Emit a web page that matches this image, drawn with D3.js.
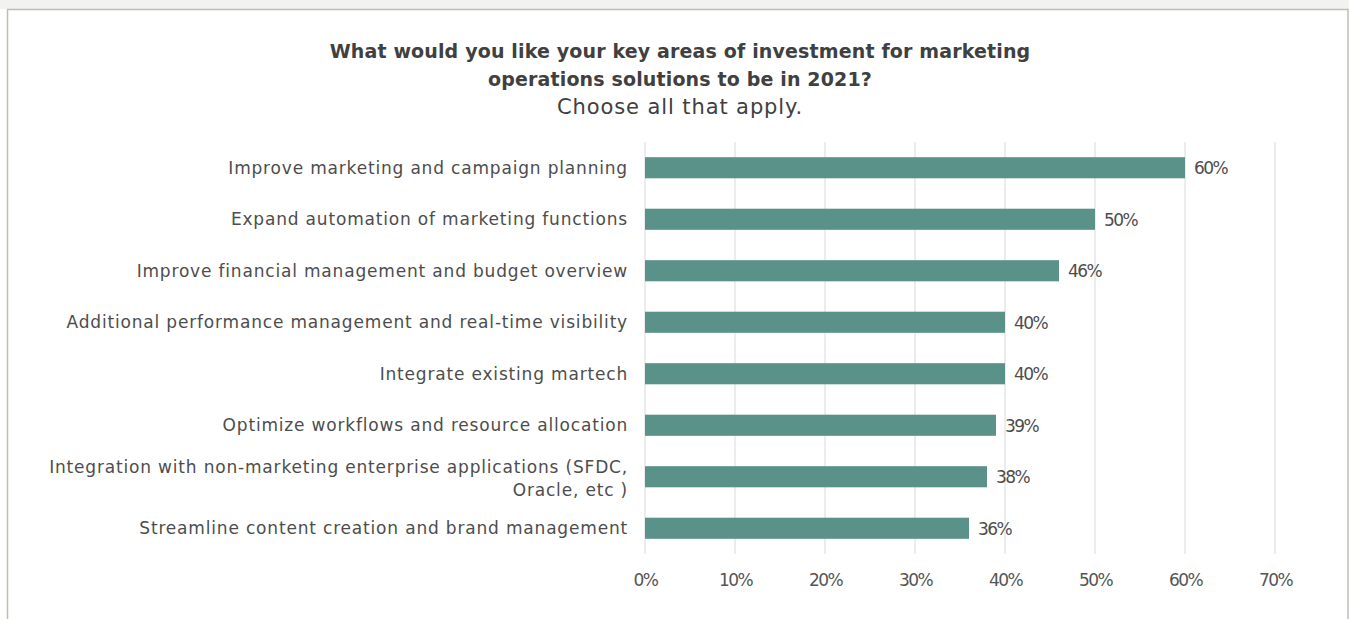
<!DOCTYPE html>
<html>
<head>
<meta charset="utf-8">
<script src="https://cdn.jsdelivr.net/npm/d3@7"></script>
<style>
  html, body { margin: 0; padding: 0; background: #ffffff; }
  svg { display: block; }
  text { font-family: "DejaVu Sans", "Noto Sans", sans-serif; }
</style>
</head>
<body>
<svg id="chart" width="1349" height="619"></svg>
<script>
// Survey answers, top to bottom
const categories = [
  "Improve marketing and campaign planning",
  "Expand automation of marketing functions",
  "Improve financial management and budget overview",
  "Additional performance management and real-time visibility",
  "Integrate existing martech",
  "Optimize workflows and resource allocation",
  "Integration with non-marketing enterprise applications (SFDC,|Oracle, etc )",
  "Streamline content creation and brand management"
];
const shares = [60, 50, 46, 40, 40, 39, 38, 36];
const tickValues = [0, 10, 20, 30, 40, 50, 60, 70];
const titleLines = [
  "What would you like your key areas of investment for marketing",
  "operations solutions to be in 2021?"
];
const subtitle = "Choose all that apply.";

const svg = d3.select("#chart");
const W = 1349, H = 619;

// page backdrop and chart frame
svg.append("rect").attr("x", 0).attr("y", 0).attr("width", W).attr("height", 9).attr("fill", "#f2f2f2");
svg.append("rect")
  .attr("x", 7.5).attr("y", 9.5).attr("width", 1340.5).attr("height", 640)
  .attr("fill", "#ffffff").attr("stroke", "#c3bdad").attr("stroke-width", 1.5);

const plot = { left: 645, right: 1275, top: 142, bottom: 554 };

const x = d3.scaleLinear().domain([0, 70]).range([plot.left, plot.right]);
const y = d3.scaleBand().domain(categories).range([plot.top, plot.bottom]).paddingInner(0.59).paddingOuter(0.295);

// vertical gridlines
svg.append("g").selectAll("line").data(tickValues).join("line")
  .attr("x1", d => x(d)).attr("x2", d => x(d))
  .attr("y1", plot.top).attr("y2", plot.bottom)
  .attr("stroke", "#d9d9d9").attr("stroke-width", 1);

// bottom axis labels
const xAxis = d3.axisBottom(x).tickValues(tickValues).tickFormat(d => d + "%").tickSize(0).tickPadding(0);
const gx = svg.append("g").attr("transform", `translate(0,${plot.bottom + 20})`).call(xAxis);
gx.select(".domain").remove();
gx.selectAll("text").attr("font-size", 17).attr("fill", "#555555").attr("dy", "0.71em")
  .style("font-family", "'DejaVu Sans', sans-serif").attr("letter-spacing", -1.6);

// bars
svg.append("g").selectAll("rect").data(categories).join("rect")
  .attr("x", x(0))
  .attr("y", d => y(d))
  .attr("width", (d, i) => x(shares[i]) - x(0))
  .attr("height", y.bandwidth())
  .attr("fill", "#5a9189");

// value labels
svg.append("g").selectAll("text").data(categories).join("text")
  .attr("x", (d, i) => x(shares[i]) + 9)
  .attr("y", d => y(d) + y.bandwidth() / 2)
  .attr("dy", "0.37em")
  .attr("font-size", 17).attr("fill", "#4d4d4d").attr("letter-spacing", -1.6)
  .text((d, i) => shares[i] + "%");

// category labels
const yAxis = d3.axisLeft(y).tickSize(0).tickPadding(17).tickFormat("");
const gy = svg.append("g").attr("transform", `translate(${plot.left},0)`).call(yAxis);
gy.select(".domain").remove();
gy.selectAll(".tick").each(function(d) {
  const lines = d.split("|");
  const t = d3.select(this).append("text")
    .attr("x", -17).attr("text-anchor", "end")
    .attr("font-size", 17).attr("fill", "#4d4d4d").attr("letter-spacing", 0.82);
  lines.forEach((ln, k) => {
    t.append("tspan").attr("x", -17)
      .attr("dy", k === 0 ? (0.35 - (lines.length - 1) * 0.56) + "em" : "1.35em")
      .text(ln);
  });
});

// title block
const cx = 680;
svg.append("text").attr("x", cx).attr("y", 58).attr("text-anchor", "middle")
  .attr("font-size", 19).attr("font-weight", "bold").attr("fill", "#404040").attr("letter-spacing", 0.15)
  .text(titleLines[0]);
svg.append("text").attr("x", cx).attr("y", 86).attr("text-anchor", "middle")
  .attr("font-size", 19).attr("font-weight", "bold").attr("fill", "#404040").attr("letter-spacing", 0.15)
  .text(titleLines[1]);
svg.append("text").attr("x", cx).attr("y", 114).attr("text-anchor", "middle")
  .attr("font-size", 21).attr("fill", "#404040").attr("letter-spacing", 0.9)
  .text(subtitle);
</script>
</body>
</html>
